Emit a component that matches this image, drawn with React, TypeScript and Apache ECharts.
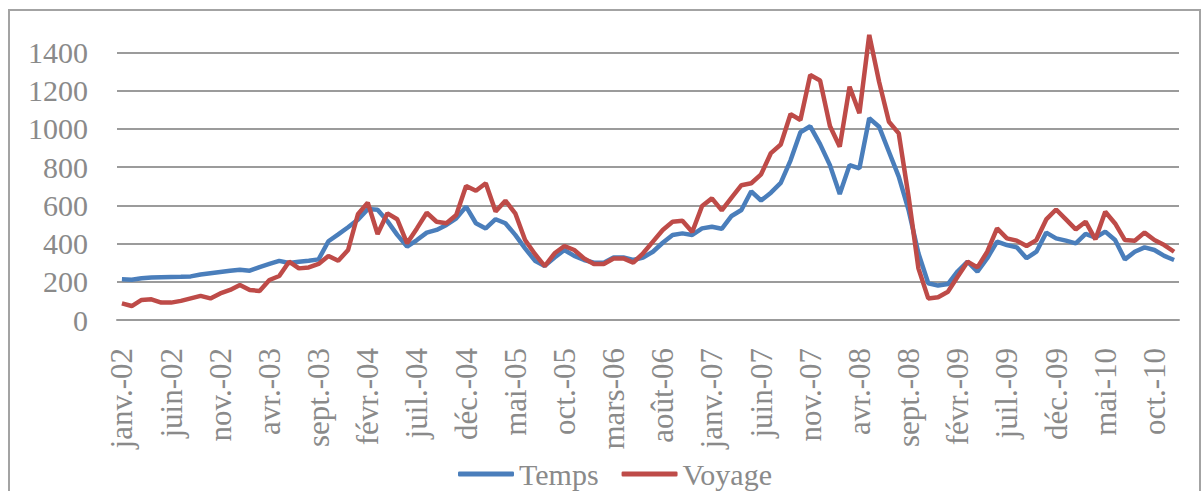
import React, { useEffect, useRef } from "react";
import * as echarts from "echarts";

const monthNames = ["janv.", "févr.", "mars", "avr.", "mai", "juin", "juil.", "août", "sept.", "oct.", "nov.", "déc."];
const years = ["02", "03", "04", "05", "06", "07", "08", "09", "10"];
const categories: string[] = years.flatMap((y) => monthNames.map((m) => `${m}-${y}`));

const temps = [
  213, 210, 218, 222, 224, 225, 226, 228, 238, 245, 251, 257,
  263, 258, 277, 293, 309, 298, 305, 310, 317, 412, 448, 485,
  525, 580, 577, 517, 445, 384, 418, 457, 471, 497, 532, 593,
  506, 479, 527, 506, 445, 375, 310, 283, 327, 366, 335, 314,
  300, 300, 327, 327, 314, 327, 357, 404, 445, 453, 445, 479,
  488, 477, 544, 575, 673, 625, 666, 717, 835, 982, 1013, 920,
  810, 659, 810, 793, 1055, 1011, 880, 750, 575, 349, 192, 180,
  188, 255, 305, 253, 323, 410, 392, 380, 323, 357, 457, 427,
  415, 401, 450, 431, 462, 418, 317, 357, 380, 366, 335, 314,
];

const voyage = [
  87, 73, 105, 108, 91, 91, 100, 113, 126, 113, 139, 157,
  183, 157, 152, 209, 230, 305, 270, 275, 293, 335, 310, 366,
  553, 614, 450, 558, 527, 401, 479, 561, 514, 506, 549, 701,
  676, 715, 567, 624, 558, 418, 345, 282, 349, 387, 366, 322,
  293, 293, 322, 322, 300, 349, 410, 471, 514, 519, 460, 596,
  636, 573, 640, 705, 715, 762, 873, 918, 1077, 1046, 1281, 1253,
  1015, 906, 1220, 1081, 1491, 1246, 1037, 976, 645, 270, 113, 119,
  148, 227, 305, 275, 357, 479, 427, 415, 387, 418, 526, 578,
  526, 474, 514, 422, 566, 505, 418, 415, 457, 418, 392, 357,
];

const FONT = "'Liberation Serif', 'Times New Roman', serif";
const TEXT = "#8a8a8a";
const GRID = "#9b9b9b";

export default function App() {
  const ref = useRef<HTMLDivElement>(null);
  useEffect(() => {
    if (!ref.current) return;
    const chart = echarts.init(ref.current, undefined, { renderer: "svg" });
    chart.setOption({
      animation: false,
      backgroundColor: "#ffffff",
      textStyle: { fontFamily: FONT },
      graphic: [
        {
          type: "rect",
          shape: { x: 9, y: 10, width: 1191, height: 500 },
          style: { fill: "none", stroke: "#a3a3a3", lineWidth: 2 },
          silent: true,
        },
      ],
      grid: { left: 117, right: 22, top: 52.3, bottom: 171, containLabel: false },
      legend: {
        data: ["Temps", "Voyage"],
        left: 453,
        top: 454,
        icon: "roundRect",
        itemWidth: 56,
        itemHeight: 5,
        itemGap: 23,
        textStyle: { fontFamily: FONT, fontSize: 30, color: TEXT },
      },
      xAxis: {
        type: "category",
        data: categories,
        boundaryGap: true,
        axisLine: { show: true, lineStyle: { color: GRID, width: 2 } },
        axisTick: { show: false },
        axisLabel: {
          interval: 4,
          rotate: 90,
          margin: 28,
          fontFamily: FONT,
          fontSize: 31,
          color: TEXT,
        },
        splitLine: { show: false },
      },
      yAxis: {
        type: "value",
        min: 0,
        max: 1400,
        interval: 200,
        axisLine: { show: false },
        axisTick: { show: false },
        axisLabel: {
          margin: 29,
          fontFamily: FONT,
          fontSize: 30,
          color: TEXT,
          formatter: (v: number) => String(v),
        },
        splitLine: { show: true, lineStyle: { color: GRID, width: 2 } },
      },
      series: [
        {
          name: "Temps",
          type: "line",
          data: temps,
          symbol: "none",
          clip: false,
          lineStyle: { color: "#4a7ebb", width: 4.5 },
          itemStyle: { color: "#4a7ebb" },
        },
        {
          name: "Voyage",
          type: "line",
          data: voyage,
          symbol: "none",
          clip: false,
          lineStyle: { color: "#be4b48", width: 4.5 },
          itemStyle: { color: "#be4b48" },
        },
      ],
    });
    return () => chart.dispose();
  }, []);
  return (
    <div
      ref={ref}
      style={{ position: "fixed", left: 0, top: 0, width: 1201, height: 491 }}
    />
  );
}
